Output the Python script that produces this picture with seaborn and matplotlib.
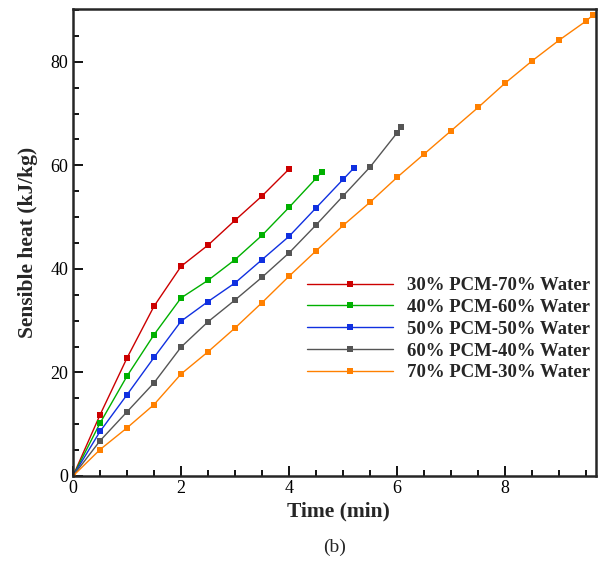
import numpy as np
import pandas as pd
import matplotlib
matplotlib.use("Agg")
import matplotlib.pyplot as plt
from matplotlib.lines import Line2D
from matplotlib.ticker import MultipleLocator
import seaborn as sns

labels = ["30% PCM-70% Water", "40% PCM-60% Water", "50% PCM-50% Water",
          "60% PCM-40% Water", "70% PCM-30% Water"]
colors = ["#cc0000", "#00b000", "#1030e0", "#555555", "#ff8000"]

t30 = [0, 0.5, 1, 1.5, 2, 2.5, 3, 3.5, 4]
q30 = [0, 11.8, 22.8, 32.8, 40.5, 44.6, 49.4, 54.1, 59.3]
t40 = [0, 0.5, 1, 1.5, 2, 2.5, 3, 3.5, 4, 4.5, 4.6]
q40 = [0, 10.2, 19.3, 27.3, 34.4, 37.8, 41.8, 46.5, 51.9, 57.5, 58.7]
t50 = [0, 0.5, 1, 1.5, 2, 2.5, 3, 3.5, 4, 4.5, 5, 5.2]
q50 = [0, 8.6, 15.7, 22.9, 29.9, 33.7, 37.3, 41.8, 46.3, 51.8, 57.3, 59.5]
t60 = [0, 0.5, 1, 1.5, 2, 2.5, 3, 3.5, 4, 4.5, 5, 5.5, 6, 6.07]
q60 = [0, 6.8, 12.4, 18.0, 24.9, 29.8, 34.0, 38.4, 43.1, 48.5, 54.1, 59.7, 66.3, 67.4]
t70 = [0, 0.5, 1, 1.5, 2, 2.5, 3, 3.5, 4, 4.5, 5, 5.5, 6, 6.5, 7, 7.5, 8, 8.5, 9, 9.5, 9.63]
q70 = [0, 5.1, 9.3, 13.8, 19.7, 24.0, 28.6, 33.5, 38.6, 43.5, 48.4, 52.9, 57.7, 62.2,
       66.7, 71.2, 75.9, 80.2, 84.2, 87.9, 89.1]

times = [t30, t40, t50, t60, t70]
values = [q30, q40, q50, q60, q70]

frames = []
for lab, t, q in zip(labels, times, values):
    frames.append(pd.DataFrame({"time": t, "heat": q, "mix": lab}))
df = pd.concat(frames, ignore_index=True)

sns.set_style("ticks")
plt.rcParams["font.family"] = ["Liberation Serif", "DejaVu Serif"]

fig = plt.figure(figsize=(6.04, 5.62), dpi=100)
ax = fig.add_axes([73/604, 1-476/562, (596-73)/604, (476-9)/562])

sns.lineplot(data=df, x="time", y="heat", hue="mix", hue_order=labels,
             palette=colors, marker="s", markersize=4.8, markeredgewidth=0,
             linewidth=1.0, sort=False, estimator=None, legend=False, ax=ax)

ax.set_xlim(0, 9.68)
ax.set_ylim(0, 90.2)
ax.xaxis.set_major_locator(MultipleLocator(2))
ax.xaxis.set_minor_locator(MultipleLocator(0.5))
ax.yaxis.set_major_locator(MultipleLocator(20))
ax.yaxis.set_minor_locator(MultipleLocator(5))
ax.tick_params(which="both", direction="in", top=False, right=False, labelsize=13,
               width=1.3, colors="black")
ax.tick_params(which="major", length=7)
ax.tick_params(which="minor", length=4)
ax.tick_params(axis="x", pad=3)
for s in ax.spines.values():
    s.set_linewidth(1.8)
    s.set_visible(True)

ax.set_xlabel("Time (min)", fontsize=15.5, fontweight="bold")
ax.set_ylabel("Sensible heat (kJ/kg)", fontsize=15.5, fontweight="bold")
ax.xaxis.set_label_coords(0.507, -0.054)
ax.yaxis.set_label_coords(-0.066, 0.5)

handles = [Line2D([0], [0], color=c, lw=1.0, marker="s", markersize=4.8,
                  markeredgewidth=0) for c in colors]
leg = ax.legend(handles, labels, loc="upper left", bbox_to_anchor=(234/523, 1-(277-9)/467),
                frameon=False, prop={"weight": "bold", "size": 13.5}, handlelength=4.6,
                handletextpad=0.75, labelspacing=0.25, borderaxespad=0, borderpad=0)

fig.text(335/604, 1-547/562, "(b)", ha="center", va="center", fontsize=14)

fig.savefig("out.png", dpi=100)
